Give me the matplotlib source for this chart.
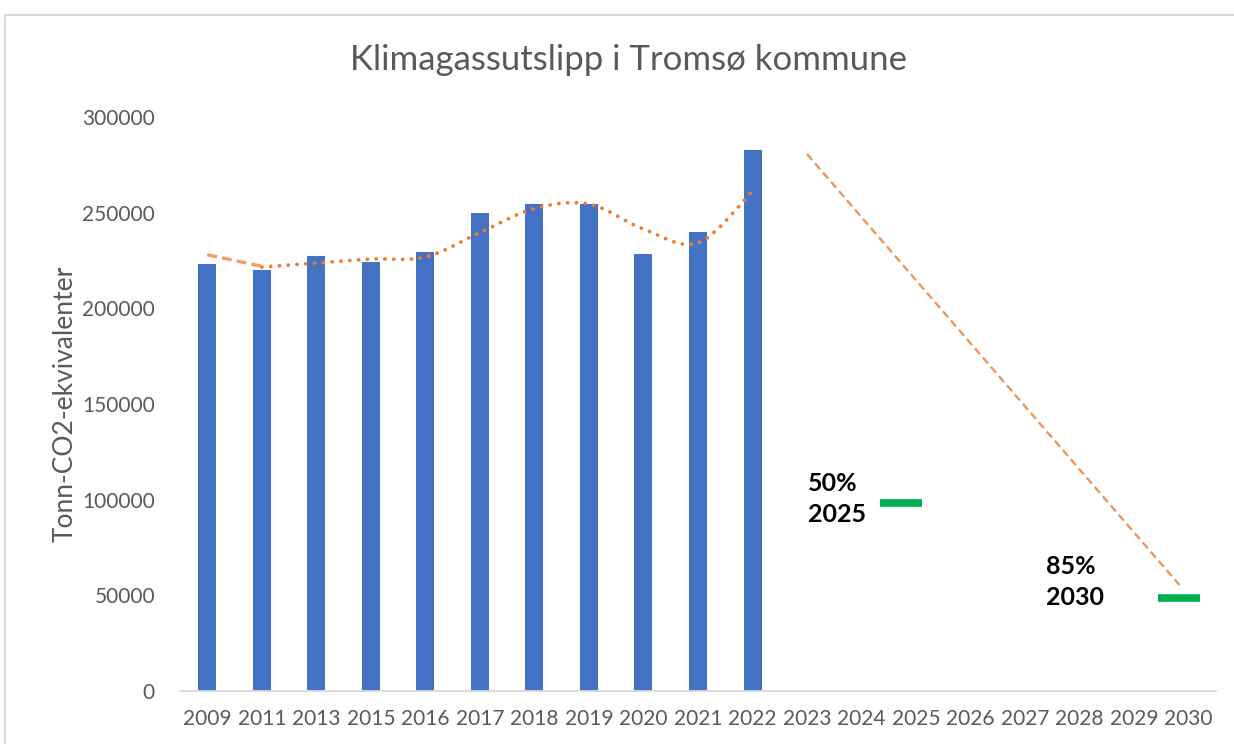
import matplotlib
matplotlib.use('Agg')

import matplotlib.pyplot as plt
from matplotlib.patches import Rectangle
import numpy as np

# categories on the x axis
years = ['2009', '2011', '2013', '2015', '2016', '2017', '2018', '2019', '2020',
         '2021', '2022', '2023', '2024', '2025', '2026', '2027', '2028', '2029', '2030']

# measured emissions (tonn CO2-ekv), one per year up to 2022
emissions = [223100, 220000, 227300, 224200, 229400, 249800, 254500, 254500,
             228400, 240000, 282700]

# short dashed piece at the start (2009 -> 2011)
start_pos = [0, 1]
start_vals = [228000, 222000]

# projected path 2023 -> 2030
proj_pos = [11, 17.83]
proj_vals = [280600, 55400]

# targets
target_pos = [12.73, 17.83]
target_vals = [98000, 48600]
target_text = ['50%\n2025', '85%\n2030']
target_text_pos = [(11.02, 100300), (15.39, 57000)]

blue = '#4472C4'
orange = '#ED7D31'
green = '#00B050'
grey = '#595959'

plt.rcParams['font.family'] = ['Lato', 'DejaVu Sans']


def smooth(xs, ys, n=30):
    # Excel-style smoothed line (Catmull-Rom as cubic Bezier)
    xs = np.asarray(xs, float)
    ys = np.asarray(ys, float)
    px = np.concatenate([[xs[0]], xs, [xs[-1]]])
    py = np.concatenate([[ys[0]], ys, [ys[-1]]])
    out_x, out_y = [], []
    t = np.linspace(0, 1, n)
    for i in range(1, len(px) - 2):
        p0, p1, p2, p3 = [np.array([px[j], py[j]]) for j in (i - 1, i, i + 1, i + 2)]
        c1 = p1 + (p2 - p0) / 6
        c2 = p2 - (p3 - p1) / 6
        seg = ((1 - t) ** 3)[:, None] * p1 + (3 * (1 - t) ** 2 * t)[:, None] * c1 \
            + (3 * (1 - t) * t ** 2)[:, None] * c2 + (t ** 3)[:, None] * p2
        out_x.extend(seg[:, 0])
        out_y.extend(seg[:, 1])
    return np.array(out_x), np.array(out_y)


fig = plt.figure(figsize=(12.34, 7.44), dpi=100)
fig.patches.append(Rectangle((5 / 1234, -0.1), 1.2, (744 - 15) / 744 + 0.1,
                             transform=fig.transFigure, fill=False,
                             edgecolor='#D9D9D9', linewidth=1.5))

ax = fig.add_axes([180 / 1234, (744 - 691) / 744, 1036 / 1234, (691 - 117) / 744])

x = np.arange(len(emissions))
ax.bar(x, emissions, width=0.33, color=blue, zorder=2)

# 2-period moving average trendline
ma = [(emissions[i - 1] + emissions[i]) / 2 for i in range(1, len(emissions))]
sx, sy = smooth(x[1:], ma)
ax.plot(sx, sy, color=orange, linewidth=2.7, linestyle=(0, (0.05, 2.3)),
        dash_capstyle='round', zorder=3)

ax.plot(start_pos, start_vals, color=orange, alpha=0.75, linewidth=2.4,
        linestyle=(0, (3, 1.5)), zorder=3)
ax.plot(proj_pos, proj_vals, color=orange, alpha=0.85, linewidth=1.6,
        linestyle=(0, (3.5, 2)), zorder=3)

ax.plot(target_pos, target_vals, linestyle='none', marker='_', color=green,
        markersize=30, markeredgewidth=5.5, zorder=4)
for txt, (tx, ty) in zip(target_text, target_text_pos):
    ax.text(tx, ty, txt, fontsize=18, fontweight='bold', color='black',
            ha='left', va='center', linespacing=1.4)

ax.set_xlim(-0.5, len(years) - 0.5)
ax.set_ylim(0, 300000)
ax.set_xticks(np.arange(len(years)))
ax.set_xticklabels(years)
ax.set_yticks(np.arange(0, 300001, 50000))
ax.tick_params(axis='x', length=0, pad=13, labelsize=15, labelcolor=grey)
ax.tick_params(axis='y', length=0, pad=18, labelsize=15, labelcolor=grey)

for s in ['top', 'right', 'left']:
    ax.spines[s].set_visible(False)
ax.spines['bottom'].set_color('#D9D9D9')
ax.spines['bottom'].set_linewidth(1.3)

ax.set_ylabel('Tonn-CO2-ekvivalenter', fontsize=19, color=grey, labelpad=3)
fig.text(628 / 1234, 1 - 60 / 744, 'Klimagassutslipp i Tromsø kommune',
         fontsize=25, color=grey, ha='center', va='center')

fig.savefig('out.png', dpi=100)
